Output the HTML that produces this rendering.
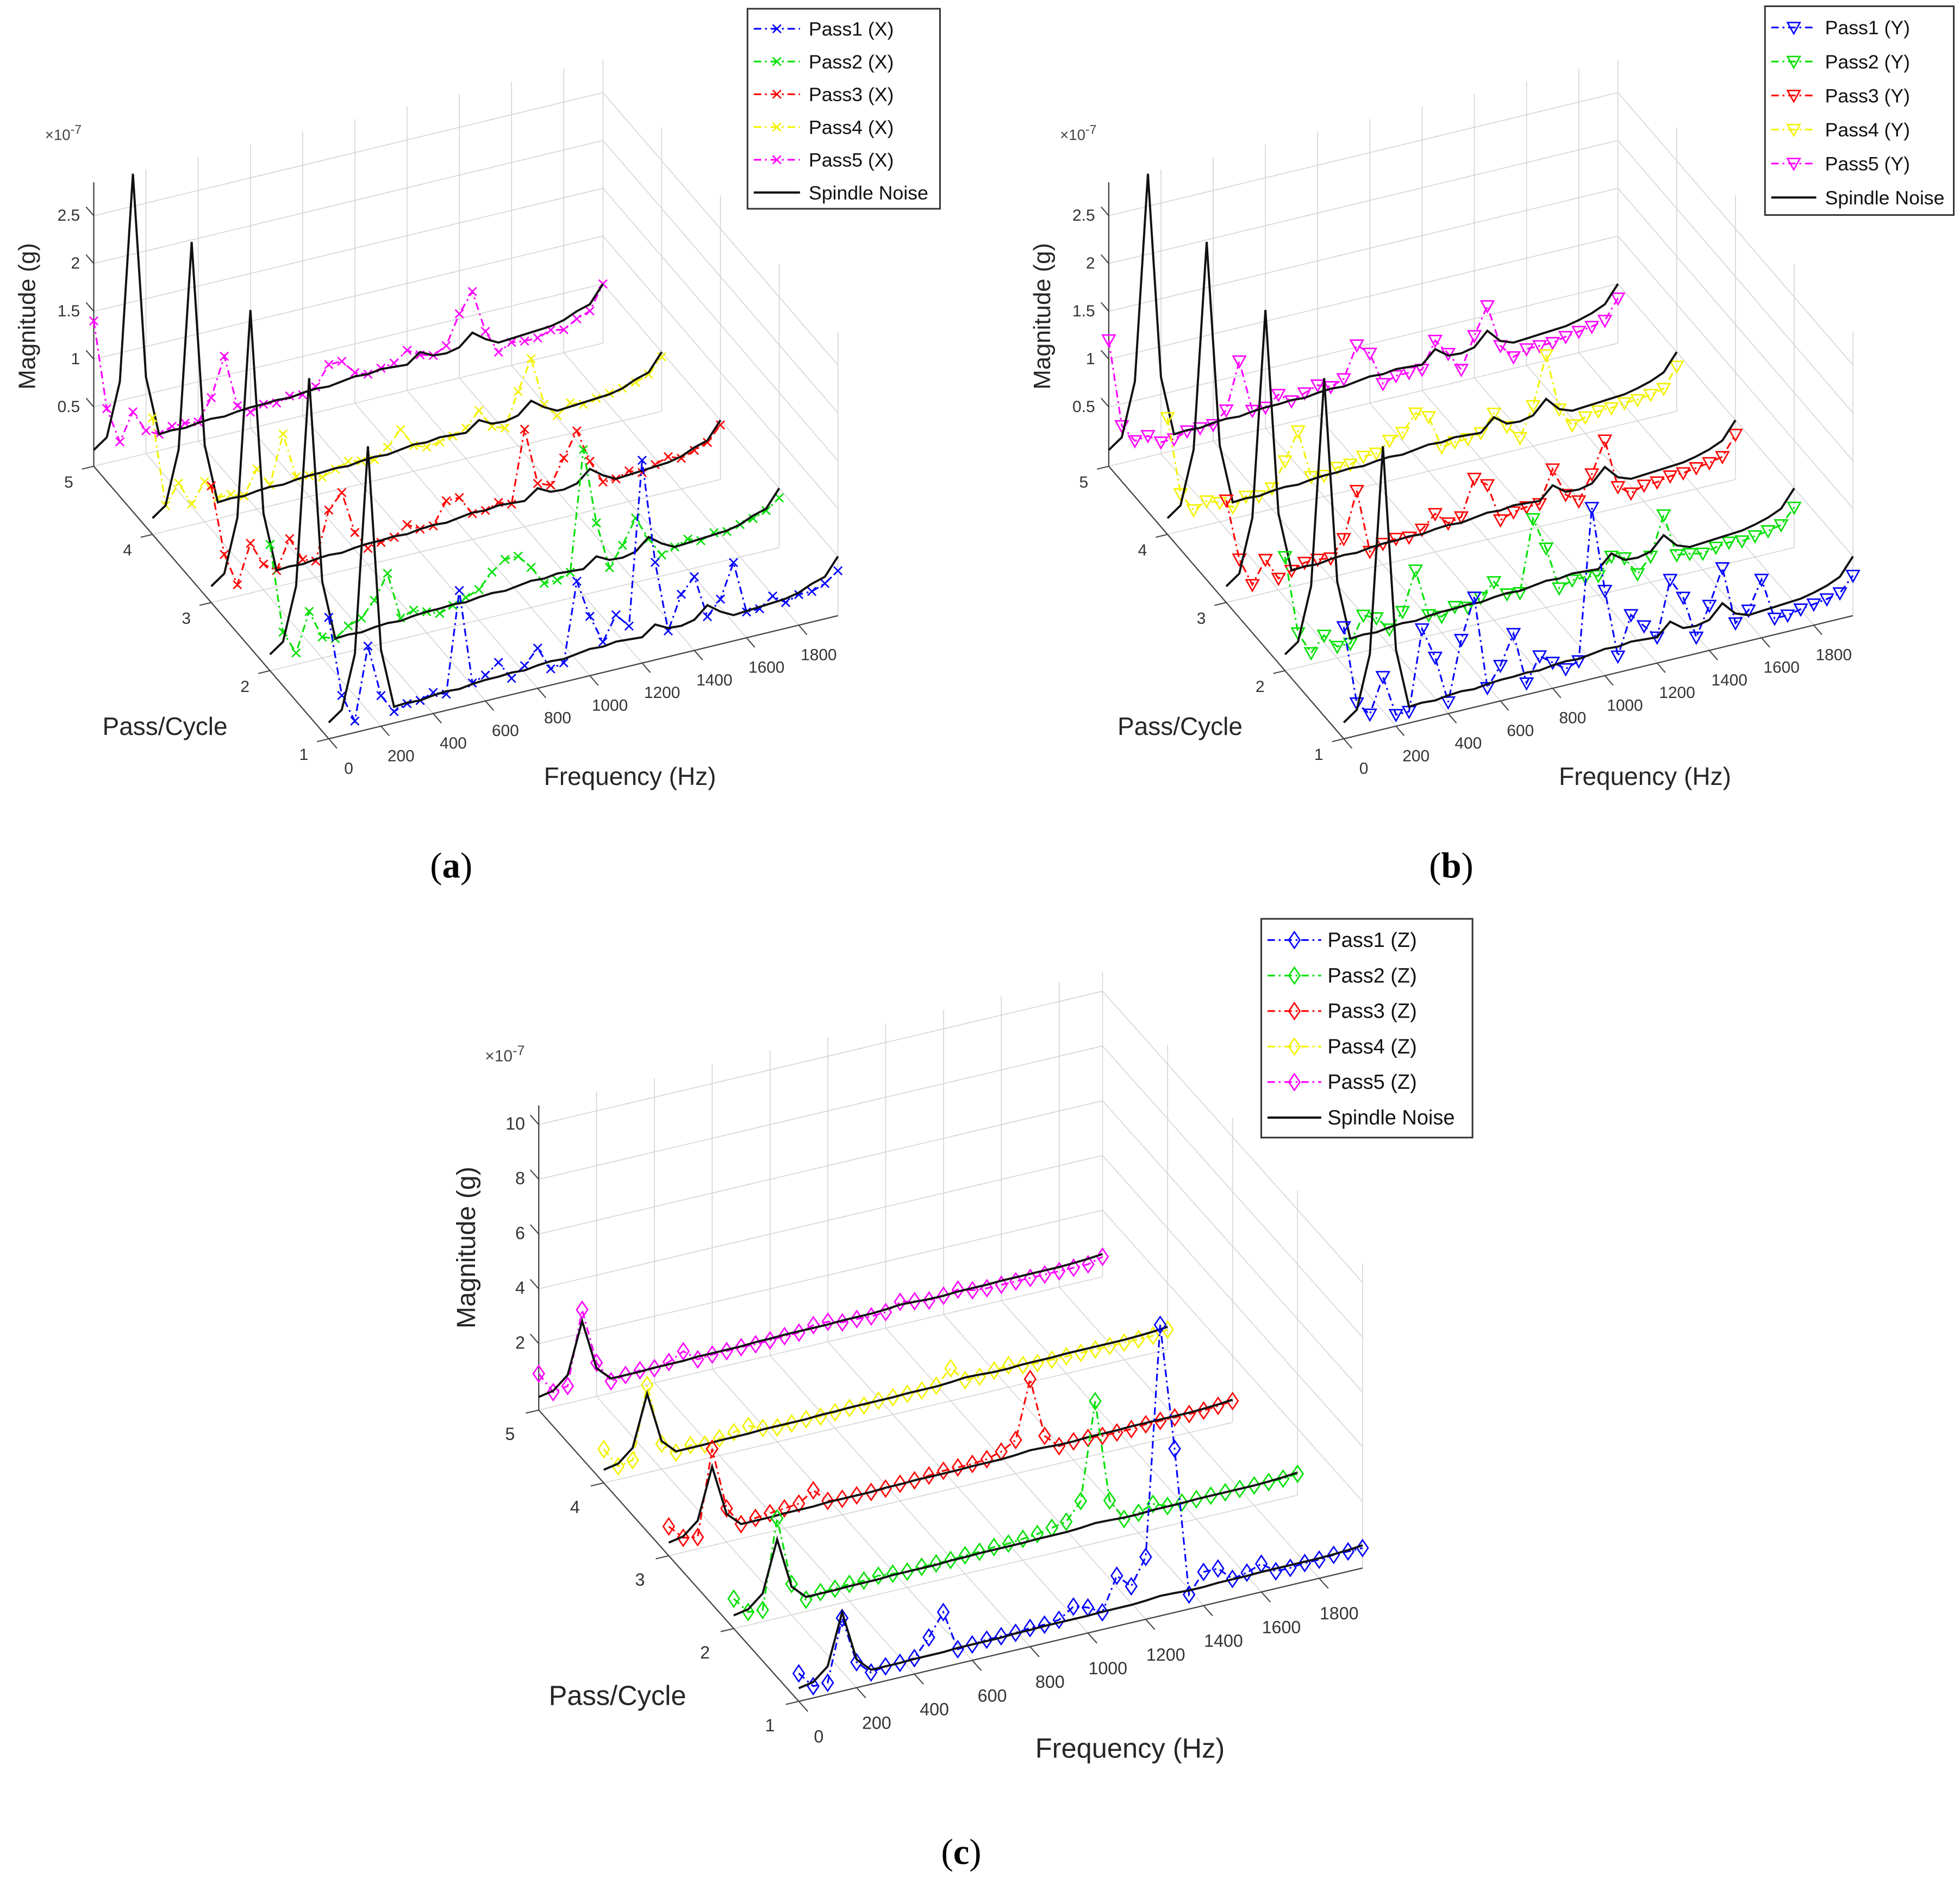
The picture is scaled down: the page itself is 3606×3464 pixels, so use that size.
<!DOCTYPE html>
<html><head><meta charset="utf-8"><title>Pass spectra figure</title>
<style>
html,body{margin:0;padding:0;background:#fff;}
svg{display:block;font-family:"Liberation Sans",sans-serif;}
</style></head>
<body>
<svg id="chart" xmlns="http://www.w3.org/2000/svg" width="3606" height="3464" viewBox="0 0 1568 1506.3" preserveAspectRatio="none">
<rect x="0" y="0" width="1568" height="1506.3" fill="#fff"/>
</svg>
<script>
// ---------- data ----------
const freqs = [0,50,100,150,200,250,300,350,400,450,500,550,600,650,700,750,800,850,900,950,1000,1050,1100,1150,1200,1250,1300,1350,1400,1450,1500,1550,1600,1650,1700,1750,1800,1850,1900,1950];
const passLabels = [1,2,3,4,5];
const freqTicks = [0,200,400,600,800,1000,1200,1400,1600,1800];
const zTicksAB = [0.5,1,1.5,2,2.5];
const zTickLabelsAB = ["0.5","1","1.5","2","2.5"];
const zTicksC = [2,4,6,8,10];
const zTickLabelsC = ["2","4","6","8","10"];
const legendNames = ["Pass1","Pass2","Pass3","Pass4","Pass5"];

// panel (a) X direction, values in 1e-7 g
const spindleA = [0.05,0.15,0.7,2.84,0.68,0.05,0.06,0.05,0.07,0.08,0.07,0.09,0.1,0.1,0.11,0.1,0.12,0.13,0.12,0.14,0.16,0.15,0.17,0.16,0.15,0.25,0.18,0.17,0.2,0.32,0.22,0.15,0.16,0.17,0.18,0.19,0.22,0.28,0.32,0.5];
const a1 = [1.15,0.3,0.0,0.75,0.2,0.0,0.05,0.05,0.1,0.05,1.1,0.1,0.15,0.25,0.05,0.15,0.3,0.05,0.08,0.9,0.5,0.2,0.45,0.3,2.0,0.9,0.15,0.5,0.65,0.2,0.35,0.7,0.15,0.15,0.25,0.15,0.2,0.2,0.25,0.35];
const a2 = [1.2,0.25,0.0,0.4,0.1,0.05,0.15,0.2,0.35,0.6,0.1,0.15,0.1,0.05,0.1,0.15,0.2,0.35,0.45,0.45,0.3,0.1,0.1,0.15,1.4,0.6,0.1,0.3,0.55,0.3,0.1,0.15,0.2,0.15,0.2,0.18,0.22,0.25,0.3,0.4];
const a3 = [1.1,0.35,0.0,0.4,0.15,0.05,0.35,0.1,0.05,0.55,0.7,0.25,0.05,0.08,0.1,0.2,0.12,0.12,0.35,0.35,0.15,0.15,0.2,0.15,0.9,0.3,0.25,0.5,0.75,0.4,0.15,0.15,0.2,0.15,0.2,0.25,0.2,0.25,0.3,0.45];
const a4 = [1.1,0.15,0.35,0.1,0.3,0.1,0.1,0.05,0.3,0.1,0.6,0.12,0.1,0.05,0.1,0.15,0.12,0.1,0.2,0.35,0.15,0.1,0.12,0.15,0.2,0.35,0.15,0.1,0.45,0.76,0.25,0.1,0.2,0.15,0.18,0.2,0.22,0.25,0.3,0.45];
const a5 = [1.4,0.45,0.07,0.35,0.12,0.05,0.1,0.1,0.08,0.3,0.7,0.15,0.05,0.1,0.08,0.12,0.1,0.15,0.35,0.35,0.2,0.15,0.18,0.2,0.3,0.22,0.18,0.25,0.55,0.75,0.3,0.05,0.12,0.1,0.1,0.15,0.12,0.2,0.25,0.5];

// panel (b) Y direction
const spindleB = [0.05,0.15,0.7,2.84,0.68,0.05,0.06,0.05,0.07,0.08,0.07,0.09,0.1,0.1,0.11,0.1,0.12,0.13,0.12,0.14,0.16,0.15,0.17,0.16,0.15,0.28,0.18,0.17,0.2,0.34,0.2,0.15,0.16,0.17,0.18,0.19,0.22,0.26,0.32,0.5];
const b1 = [1.05,0.22,0.07,0.43,0.0,0.0,0.83,0.5,0.0,0.62,1.03,0.05,0.25,0.55,0.0,0.25,0.15,0.05,0.1,1.67,0.77,0.05,0.45,0.3,0.15,0.72,0.5,0.05,0.35,0.71,0.1,0.2,0.49,0.05,0.05,0.08,0.1,0.12,0.15,0.3];
const b2 = [1.07,0.24,0.0,0.15,0.0,0.0,0.26,0.2,0.05,0.2,0.6,0.1,0.05,0.12,0.08,0.15,0.28,0.12,0.1,0.84,0.5,0.05,0.1,0.1,0.08,0.25,0.2,0.0,0.15,0.55,0.1,0.08,0.05,0.08,0.1,0.08,0.1,0.12,0.15,0.3];
const b3 = [0.95,0.3,0.0,0.23,0.0,0.05,0.1,0.1,0.08,0.25,0.72,0.05,0.1,0.12,0.1,0.15,0.28,0.15,0.18,0.55,0.45,0.05,0.1,0.12,0.12,0.45,0.15,0.05,0.3,0.62,0.1,0.0,0.05,0.05,0.08,0.08,0.1,0.12,0.15,0.35];
const b4 = [1.1,0.27,0.07,0.13,0.08,0.0,0.08,0.05,0.1,0.35,0.63,0.12,0.1,0.15,0.15,0.2,0.2,0.3,0.35,0.52,0.45,0.1,0.12,0.12,0.15,0.32,0.15,0.0,0.3,0.8,0.2,0.0,0.05,0.08,0.08,0.1,0.1,0.12,0.15,0.35];
const b5 = [1.2,0.27,0.08,0.1,0.0,0.0,0.05,0.05,0.05,0.17,0.65,0.1,0.1,0.2,0.1,0.15,0.2,0.15,0.2,0.52,0.4,0.05,0.1,0.1,0.1,0.37,0.2,0.0,0.32,0.6,0.15,0.0,0.05,0.05,0.05,0.08,0.1,0.12,0.15,0.35];

// panel (c) Z direction
const spindleC = [0.05,0.15,0.6,2.45,0.6,0.1,0.1,0.1,0.12,0.12,0.12,0.15,0.15,0.15,0.15,0.18,0.18,0.2,0.2,0.2,0.2,0.22,0.22,0.22,0.25,0.3,0.28,0.25,0.25,0.28,0.28,0.28,0.3,0.3,0.3,0.3,0.3,0.32,0.35,0.4];
const c1 = [0.59,0.0,0.0,2.24,0.5,0.0,0.1,0.1,0.15,0.78,1.58,0.1,0.15,0.2,0.2,0.2,0.25,0.25,0.3,0.66,0.5,0.2,1.41,0.9,1.85,10.2,5.55,0.1,0.8,0.8,0.3,0.4,0.6,0.2,0.2,0.25,0.25,0.3,0.3,0.3];
const c2 = [0.66,0.05,0.0,3.22,0.7,0.0,0.15,0.15,0.2,0.2,0.25,0.2,0.15,0.2,0.2,0.2,0.25,0.25,0.3,0.3,0.35,0.4,0.5,0.6,1.23,4.75,1.0,0.2,0.3,0.5,0.3,0.3,0.3,0.3,0.3,0.3,0.3,0.3,0.3,0.35];
const c3 = [0.64,0.1,0.0,3.1,0.8,0.1,0.2,0.25,0.3,0.35,0.71,0.2,0.15,0.15,0.15,0.15,0.2,0.2,0.25,0.3,0.3,0.3,0.35,0.5,0.8,2.9,0.7,0.2,0.25,0.25,0.2,0.2,0.2,0.25,0.25,0.25,0.25,0.25,0.3,0.35];
const c4 = [0.8,0.05,0.15,2.77,0.5,0.05,0.2,0.1,0.2,0.3,0.4,0.2,0.1,0.12,0.15,0.12,0.15,0.18,0.15,0.2,0.2,0.2,0.2,0.25,0.76,0.2,0.2,0.3,0.37,0.25,0.2,0.2,0.2,0.2,0.2,0.2,0.2,0.2,0.2,0.3];
const c5 = [0.9,0.1,0.2,2.86,0.8,0.0,0.1,0.15,0.1,0.2,0.47,0.05,0.1,0.1,0.12,0.1,0.12,0.15,0.15,0.3,0.3,0.15,0.15,0.12,0.15,0.4,0.3,0.2,0.25,0.35,0.2,0.15,0.15,0.15,0.15,0.15,0.15,0.15,0.15,0.3];

const passColors = ["#0000ff","#00e000","#ff0000","#f2f200","#ff00ff"];

// ---------- drawing ----------
const NS = "http://www.w3.org/2000/svg";
const svg = document.getElementById('chart');
function mk(tag, attrs, parent){
  const e = document.createElementNS(NS, tag);
  for (const k in attrs) e.setAttribute(k, attrs[k]);
  parent.appendChild(e);
  return e;
}
function makeProj(c){
  return function(f,p,z){
    return [c.ox + c.fx*f + c.px*(p-1), c.oy + c.fy*f + c.py*(p-1) - c.kz*(z - c.zmin)];
  };
}
function line(g,a,b,stroke,w){
  return mk('line',{x1:a[0].toFixed(2),y1:a[1].toFixed(2),x2:b[0].toFixed(2),y2:b[1].toFixed(2),stroke:stroke,'stroke-width':w},g);
}
function marker(g, type, x, y, color, s){
  let e;
  if (type==='x'){
    e = mk('path',{d:`M${x-s} ${y-s}L${x+s} ${y+s}M${x-s} ${y+s}L${x+s} ${y-s}`,stroke:color,'stroke-width':1.15,fill:'none'},g);
  } else if (type==='tri'){
    e = mk('path',{d:`M${x-s} ${y-s*0.8}L${x+s} ${y-s*0.8}L${x} ${y+s}Z`,stroke:color,'stroke-width':1.15,fill:'none'},g);
  } else {
    e = mk('path',{d:`M${x} ${y-s*1.25}L${x+s*0.85} ${y}L${x} ${y+s*1.25}L${x-s*0.85} ${y}Z`,stroke:color,'stroke-width':1.15,fill:'none'},g);
  }
  return e;
}

function drawPanel(cfg){
  const P = makeProj(cfg);
  const g = mk('g',{},svg);
  
  
  const fmax = cfg.fmax;
  const grid = '#d4d4d4';
  freqTicks.forEach(f=>{
    const l = line(g,P(f,1,cfg.zmin),P(f,5,cfg.zmin),grid,0.7);
    
    
    const v = line(g,P(f,5,cfg.zmin),P(f,5,cfg.ztop),grid,0.7);
    
    
  });
  passLabels.forEach(p=>{
    const l = line(g,P(0,p,cfg.zmin),P(fmax,p,cfg.zmin),grid,0.7);
    
    
    const v = line(g,P(fmax,p,cfg.zmin),P(fmax,p,cfg.ztop),grid,0.7);
    
    
  });
  cfg.zticks.forEach((z,i)=>{
    const l = line(g,P(0,5,z),P(fmax,5,z),grid,0.7);
    
    
    const r = line(g,P(fmax,5,z),P(fmax,1,z),grid,0.7);
    
    
    const tk = line(g,P(0,5,z),P(0,5.13,z),'#444',0.9);
    
    
    const a = P(0,5,z);
    const t = mk('text',{x:(a[0]-11).toFixed(1),y:(a[1]+4).toFixed(1),'text-anchor':'end','font-size':cfg.tickFs,fill:'#333'},g);
    t.textContent = cfg.zlabels[i];
    
    
  });
  const za = line(g,P(0,5,cfg.zmin),P(0,5,cfg.ztop),'#444',1);
  
  
  const pa = line(g,P(0,1,cfg.zmin),P(0,5,cfg.zmin),'#444',1);
  
  
  const fa = line(g,P(0,1,cfg.zmin),P(fmax,1,cfg.zmin),'#444',1);
  
  
  freqTicks.forEach(f=>{
    const tk = line(g,P(f,1,cfg.zmin),P(f,0.86,cfg.zmin),'#444',0.9);
    
    
    const a = P(f,1,cfg.zmin);
    const t = mk('text',{x:(a[0]+cfg.fOff[0]).toFixed(1),y:(a[1]+cfg.fOff[1]+4).toFixed(1),'text-anchor':'middle','font-size':cfg.tickFs,fill:'#333'},g);
    t.textContent = String(f);
    
    
  });
  passLabels.forEach(p=>{
    const tk = line(g,P(0,p,cfg.zmin),P(-45,p,cfg.zmin),'#444',0.9);
    
    
    const a = P(0,p,cfg.zmin);
    const t = mk('text',{x:(a[0]+cfg.pOff[0]).toFixed(1),y:(a[1]+cfg.pOff[1]+4).toFixed(1),'text-anchor':'middle','font-size':cfg.tickFs,fill:'#333'},g);
    t.textContent = String(p);
    
    
  });
  const ex = mk('text',{x:cfg.expPos[0],y:cfg.expPos[1],'font-size':cfg.tickFs-1,fill:'#444'},g);
  ex.textContent = '×10';
  
  
  const sup = mk('tspan',{dy:-5,'font-size':cfg.tickFs-3},ex);
  sup.textContent = '-7';
  const zt = mk('text',{x:0,y:0,transform:`translate(${cfg.zTitle[0]},${cfg.zTitle[1]}) rotate(-90)`,'text-anchor':'middle','font-size':cfg.titleFs-1,fill:'#262626'},g);
  zt.textContent = 'Magnitude (g)';
  
  
  const pt = mk('text',{x:cfg.pTitle[0],y:cfg.pTitle[1],'text-anchor':'middle','font-size':cfg.titleFs,fill:'#262626'},g);
  pt.textContent = 'Pass/Cycle';
  
  
  const ft = mk('text',{x:cfg.fTitle[0],y:cfg.fTitle[1],'text-anchor':'middle','font-size':cfg.titleFs,fill:'#262626'},g);
  ft.textContent = 'Frequency (Hz)';
  
  

  for (let k=4;k>=0;k--){
    const p = k+1;
    const vals = cfg.series[k];
    const col = passColors[k];
    const pts = vals.map((v,i)=>P(freqs[i],p,v));
    const pl = mk('polyline',{points:pts.map(q=>q[0].toFixed(2)+','+q[1].toFixed(2)).join(' '),fill:'none',stroke:col,'stroke-width':1.35,'stroke-dasharray':'6,3,1.5,3'},g);
    
    
    pts.forEach(q=>{
      const m = marker(g,cfg.marker,q[0],q[1],col,cfg.msize);
      
      
    });
    const sp = cfg.spindle.map((v,i)=>P(freqs[i],p,v));
    const sl = mk('polyline',{points:sp.map(q=>q[0].toFixed(2)+','+q[1].toFixed(2)).join(' '),fill:'none',stroke:'#111','stroke-width':1.7},g);
    
    
  }

  const L = cfg.legend;
  const lg = mk('g',{},g);
  
  
  mk('rect',{x:L.x,y:L.y,width:L.w,height:L.h,fill:'#fff',stroke:'#333','stroke-width':1.3},lg);
  for (let k=0;k<6;k++){
    const y = L.y0 + k*L.dy;
    const it = mk('g',{},lg);
    
    
    if (k<5){
      mk('line',{x1:L.lx0,y1:y,x2:L.lx1,y2:y,stroke:passColors[k],'stroke-width':1.35,'stroke-dasharray':'6,3,1.5,3'},it);
      marker(it,cfg.marker,(L.lx0+L.lx1)/2,y,passColors[k],cfg.msize);
    } else {
      mk('line',{x1:L.lx0,y1:y,x2:L.lx1,y2:y,stroke:'#111','stroke-width':1.8},it);
    }
    const t = mk('text',{x:L.tx,y:y+5.5,'font-size':L.fs,fill:'#111'},it);
    t.textContent = k<5 ? legendNames[k]+' ('+cfg.axisLetter+')' : 'Spindle Noise';
  }
  const cap = mk('text',{x:cfg.cap[0],y:cfg.cap[1],'text-anchor':'middle','font-size':29,'font-family':'"Liberation Serif",serif',fill:'#000'},svg);
  
  
  cap.appendChild(document.createTextNode('('));
  const bt = mk('tspan',{'font-weight':'bold'},cap); bt.textContent = cfg.capLetter;
  cap.appendChild(document.createTextNode(')'));
}

const base = {fx:0.2089, fy:-0.0505, px:-47, py:-54.5, kz:76.5, zmin:-0.12, ztop:2.85, fmax:1950,
  zticks:zTicksAB, zlabels:zTickLabelsAB, tickFs:13, titleFs:20, fOff:[16,24], pOff:[-20,13]};

drawPanel(Object.assign({}, base, {name:'panel-a-x', ox:263, oy:591, series:[a1,a2,a3,a4,a5], spindle:spindleA,
  marker:'x', msize:3.3, axisLetter:'X', expPos:[36,112], zTitle:[28,253], pTitle:[132,588], fTitle:[504,628],
  legend:{x:598,y:7,w:154,h:160,y0:23,dy:26.2,lx0:603,lx1:640,tx:647,fs:15.5}, cap:[361,702], capLetter:'a'}));

drawPanel(Object.assign({}, base, {name:'panel-b-y', ox:1075, oy:591, series:[b1,b2,b3,b4,b5], spindle:spindleB,
  marker:'tri', msize:5, axisLetter:'Y', expPos:[848,112], zTitle:[840,253], pTitle:[944,588], fTitle:[1316,628],
  legend:{x:1412,y:5,w:151,h:167,y0:22,dy:27.2,lx0:1417,lx1:1453,tx:1460,fs:15.5}, cap:[1161,702], capLetter:'b'}));

drawPanel({name:'panel-c-z', ox:639, oy:1361, fx:0.2313, fy:-0.0547, px:-52, py:-58.25, kz:21.9, zmin:-0.43, ztop:10.7, fmax:1950,
  zticks:zTicksC, zlabels:zTickLabelsC, tickFs:14, titleFs:22, fOff:[16,29], pOff:[-23,20],
  series:[c1,c2,c3,c4,c5], spindle:spindleC, marker:'dia', msize:5.2, axisLetter:'Z', expPos:[388,849],
  zTitle:[380,998], pTitle:[494,1364], fTitle:[904,1406],
  legend:{x:1009,y:735,w:169,h:175,y0:752,dy:28.4,lx0:1014,lx1:1057,tx:1062,fs:16.5}, cap:[769,1491], capLetter:'c'});
</script>
</body></html>
